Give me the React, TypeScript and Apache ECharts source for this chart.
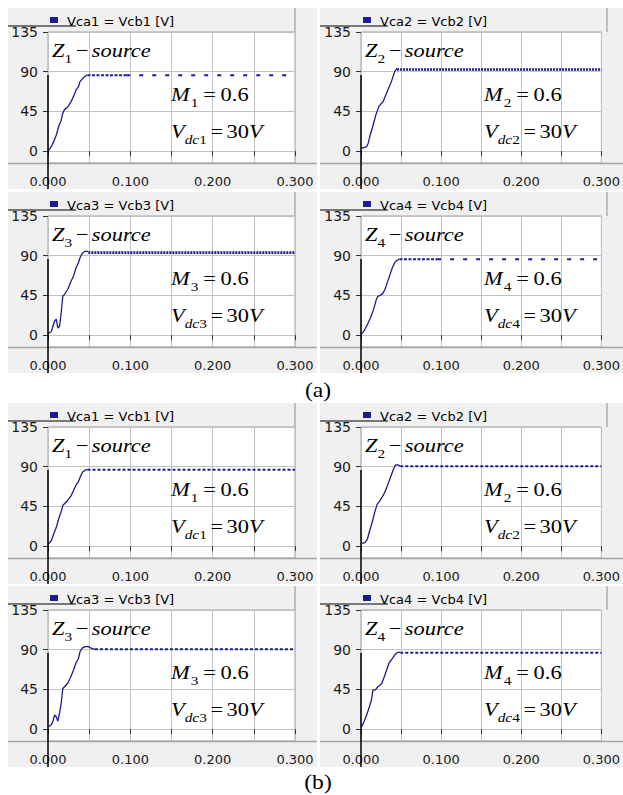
import { useEffect, useRef } from "react";
import * as echarts from "echarts";

// ---- axes ----
const timeMin = 0;
const timeMax = 0.3;
const timeStep = 0.05;
const voltTicks = [0, 45, 90, 135];
const voltMin = -13.5;
const voltMax = 135;

// ---- texts ----
const legendTexts = ["Vca1 = Vcb1 [V]", "Vca2 = Vcb2 [V]", "Vca3 = Vcb3 [V]", "Vca4 = Vcb4 [V]"];
const sourceIndex = ["1", "2", "3", "4"];
const modulationIndex = "0.6";
const dcVoltage = "30";
const groupLabels = ["(a)", "(b)"];

// ---- (a) capacitor voltages: start-up ramp and steady state [t (s), V] ----
const rampA1 = [[0, 0], [0.004, 5], [0.007, 11], [0.01, 18], [0.013, 28], [0.016, 35], [0.018, 43], [0.02, 47], [0.024, 50], [0.028, 56], [0.031, 62], [0.034, 69], [0.037, 73], [0.039, 79], [0.042, 82], [0.045, 85], [0.048, 86]];
const steadyA1 = [[0.048, 86], [0.095, 86], [0.3, 86]];

const rampA2 = [[0.001, 3], [0.007, 5], [0.009, 9], [0.012, 20], [0.015, 29], [0.0185, 41], [0.0225, 51], [0.0275, 56], [0.0325, 67], [0.038, 79], [0.042, 90], [0.045, 94]];
const steadyA2 = [[0.045, 92.5], [0.3, 92.5]];

const rampA3 = [[0, 1.5], [0.004, 4], [0.006, 10], [0.008, 16], [0.01, 18], [0.012, 8], [0.014, 10], [0.016, 25], [0.018, 44], [0.02, 46], [0.024, 52], [0.028, 61], [0.031, 67], [0.034, 76], [0.037, 82], [0.039, 88], [0.042, 93], [0.045, 95], [0.049, 95]];
const steadyA3 = [[0.049, 93.5], [0.3, 93.5]];

const rampA4 = [[0.0005, 1], [0.004, 5], [0.008, 12], [0.012, 20], [0.016, 30], [0.019, 40], [0.021, 44], [0.024, 45], [0.027, 47], [0.03, 52], [0.033, 60], [0.036, 68], [0.039, 76], [0.042, 82], [0.045, 85], [0.048, 86]];
const steadyA4 = [[0.048, 86], [0.095, 86], [0.3, 86]];

// ---- (b) capacitor voltages ----
const rampB1 = [[0, 2], [0.004, 6], [0.007, 14], [0.01, 21], [0.013, 31], [0.016, 39], [0.018, 46], [0.02, 48], [0.024, 52], [0.028, 57], [0.031, 63], [0.034, 69], [0.037, 73], [0.039, 78], [0.042, 84], [0.045, 86], [0.048, 87]];
const steadyB1 = [[0.048, 86.5], [0.3, 86.5]];

const rampB2 = [[0.001, 3], [0.005, 4], [0.008, 8], [0.011, 18], [0.014, 27], [0.017, 38], [0.02, 47], [0.024, 52], [0.028, 58], [0.032, 66], [0.036, 76], [0.04, 86], [0.043, 92], [0.046, 92], [0.049, 91]];
const steadyB2 = [[0.049, 90.5], [0.3, 90.5]];

const rampB3 = [[0.001, 3], [0.004, 5], [0.006, 9], [0.008, 16], [0.01, 14], [0.012, 9], [0.014, 18], [0.016, 29], [0.018, 46], [0.02, 48], [0.024, 52], [0.028, 60], [0.031, 67], [0.034, 75], [0.037, 80], [0.039, 88], [0.042, 92], [0.045, 93.5], [0.049, 93.5], [0.053, 91.5], [0.057, 90.5]];
const steadyB3 = [[0.057, 90.5], [0.3, 90.5]];

const rampB4 = [[0.001, 3], [0.004, 9], [0.007, 16], [0.01, 24], [0.013, 33], [0.015, 44.5], [0.018, 44.5], [0.021, 48], [0.024, 50], [0.026, 52], [0.0285, 58], [0.032, 67], [0.035, 75], [0.039, 80], [0.043, 85], [0.046, 87], [0.049, 87]];
const steadyB4 = [[0.049, 86.5], [0.3, 86.5]];

type Look = "sparse" | "ripple" | "dotted";
const panels: { row: number; col: number; n: number; ramp: number[][]; steady: number[][]; look: Look }[] = [
  { row: 0, col: 0, n: 0, ramp: rampA1, steady: steadyA1, look: "sparse" },
  { row: 0, col: 1, n: 1, ramp: rampA2, steady: steadyA2, look: "ripple" },
  { row: 1, col: 0, n: 2, ramp: rampA3, steady: steadyA3, look: "ripple" },
  { row: 1, col: 1, n: 3, ramp: rampA4, steady: steadyA4, look: "sparse" },
  { row: 2, col: 0, n: 0, ramp: rampB1, steady: steadyB1, look: "dotted" },
  { row: 2, col: 1, n: 1, ramp: rampB2, steady: steadyB2, look: "dotted" },
  { row: 3, col: 0, n: 2, ramp: rampB3, steady: steadyB3, look: "dotted" },
  { row: 3, col: 1, n: 3, ramp: rampB4, steady: steadyB4, look: "dotted" },
];

// ---- layout ----
const W = 623;
const H = 795;
const COLS = [
  { pl: 8, pw: 309, gl: 48, gw: 247 },
  { pl: 320, pw: 303, gl: 361, gw: 246 },
];
const ROW_TOPS = [8, 192, 403, 586];
const PANEL_H = 181;
const GRID_TOP = 24;
const GRID_H = 131;
const TRACE = "#1c1c8e";
const PANEL_BG = "#f0f0f0";
const GRID_LINE = "#c2c2c2";
const SANS = "DejaVu Sans";
const SERIF = "Liberation Serif";
const MAIN = 19;
const SUB = 13;
const SUB_DROP = 6;
const STRETCH = 1.18;

let measureCtx: CanvasRenderingContext2D | null = null;
function measure(text: string, italic: boolean, size: number) {
  if (!measureCtx) measureCtx = document.createElement("canvas").getContext("2d");
  measureCtx!.font = `${italic ? "italic " : ""}${size}px "${SERIF}"`;
  return measureCtx!.measureText(text).width;
}

type Piece = { t: string; it?: boolean; sub?: boolean; gap?: number };

function mathLine(x0: number, baseline: number, pieces: Piece[]) {
  const out: any[] = [];
  let cum = 0;
  for (const p of pieces) {
    cum += p.gap || 0;
    const size = p.sub ? SUB : MAIN;
    const base = baseline + (p.sub ? SUB_DROP : 0);
    out.push({
      type: "text",
      x: x0 + cum * STRETCH,
      y: base - 0.3375 * size,
      scaleX: STRETCH,
      z: 20,
      silent: true,
      style: {
        text: p.t,
        fontFamily: SERIF,
        fontSize: size,
        fontStyle: p.it ? "italic" : "normal",
        fill: "#000",
        align: "left",
        verticalAlign: "middle",
        textAlign: "left",
        textVerticalAlign: "middle",
      },
    });
    cum += measure(p.t, !!p.it, size);
  }
  return out;
}

function lineEl(x1: number, y1: number, x2: number, y2: number, stroke: string, lineWidth: number, z = 10) {
  return { type: "line", z, silent: true, shape: { x1, y1, x2, y2 }, style: { stroke, lineWidth } };
}

function steadyStyle(look: Look) {
  if (look === "ripple") return [{ type: [2, 1], width: 2.6 }];
  if (look === "dotted") return [{ type: [3, 2], width: 2 }];
  return [
    { type: [3, 1.5], width: 2 },
    { type: [4, 9], width: 2 },
  ];
}

function buildOption() {
  const grid: any[] = [];
  const xAxis: any[] = [];
  const yAxis: any[] = [];
  const series: any[] = [];
  const graphic: any[] = [];

  panels.forEach((p, i) => {
    const c = COLS[p.col];
    const T = ROW_TOPS[p.row];
    grid.push({
      left: c.gl,
      top: T + GRID_TOP,
      width: c.gw,
      height: GRID_H,
      show: true,
      backgroundColor: "#ffffff",
      borderColor: "#a0a0a0",
      borderWidth: 1,
    });
    xAxis.push({
      gridIndex: i,
      type: "value",
      min: timeMin,
      max: timeMax,
      interval: timeStep,
      offset: 7,
      axisLine: { show: false },
      axisTick: { show: true, length: 5, lineStyle: { color: "#333" } },
      axisLabel: {
        margin: 5,
        fontFamily: SANS,
        fontSize: 13,
        color: "#1a1a1a",
        formatter: (v: number) => (Math.abs(v * 10 - Math.round(v * 10)) < 1e-6 ? v.toFixed(3) : ""),
      },
      splitLine: { show: true, lineStyle: { color: GRID_LINE, width: 1 } },
    });
    yAxis.push({
      gridIndex: i,
      type: "value",
      min: voltMin,
      max: voltMax,
      axisLine: { show: false },
      axisTick: { show: true, length: 5, customValues: voltTicks, lineStyle: { color: "#333" } },
      axisLabel: { customValues: voltTicks, margin: 10, fontFamily: SANS, fontSize: 14, color: "#1a1a1a" },
      splitLine: { show: true, lineStyle: { color: GRID_LINE, width: 1 } },
    });

    series.push({
      type: "line",
      xAxisIndex: i,
      yAxisIndex: i,
      data: p.ramp,
      symbol: "none",
      silent: true,
      lineStyle: { color: TRACE, width: 1.3 },
      z: 5,
    });
    const styles = steadyStyle(p.look);
    styles.forEach((s, k) => {
      const seg = styles.length === 1 ? p.steady : p.steady.slice(k, k + 2);
      series.push({
        type: "line",
        xAxisIndex: i,
        yAxisIndex: i,
        data: seg,
        symbol: "none",
        silent: true,
        lineStyle: { color: TRACE, width: s.width, type: s.type },
        z: 5,
      });
    });

    // panel frame
    graphic.push({ type: "rect", z: -10, silent: true, shape: { x: c.pl, y: T, width: c.pw, height: PANEL_H }, style: { fill: PANEL_BG } });
    graphic.push(lineEl(c.gl + c.gw, T, c.gl + c.gw, T + GRID_TOP, "#8c8c8c", 1));
    graphic.push(lineEl(c.pl, T + 18, c.pl + 68, T + 18, "#000", 1));
    graphic.push(lineEl(c.pl, T + GRID_TOP + GRID_H + 0.5, c.pl + c.pw, T + GRID_TOP + GRID_H + 0.5, "#a4a4a4", 1.5));
    graphic.push(lineEl(c.gl, T + 67, c.gl, T + PANEL_H, "#000", 1.5, 30));
    // legend
    graphic.push({ type: "rect", z: 10, silent: true, shape: { x: c.gl + 2, y: T + 9, width: 8, height: 6 }, style: { fill: TRACE } });
    graphic.push({
      type: "text",
      z: 10,
      silent: true,
      x: c.gl + 19,
      y: T + 13,
      style: { text: legendTexts[p.n], fontFamily: SANS, fontSize: 13, fill: "#000", align: "left", verticalAlign: "middle", textAlign: "left", textVerticalAlign: "middle" },
    });
    // annotations
    const n = sourceIndex[p.n];
    graphic.push(
      ...mathLine(c.gl + 4, T + 49, [
        { t: "Z", it: true },
        { t: n, sub: true },
        { t: "\u2212", gap: 3 },
        { t: "source", it: true, gap: 3 },
      ])
    );
    graphic.push(
      ...mathLine(c.gl + 123, T + 93, [
        { t: "M", it: true },
        { t: n, sub: true, gap: 1 },
        { t: "=", gap: 4 },
        { t: modulationIndex, gap: 4 },
      ])
    );
    graphic.push(
      ...mathLine(c.gl + 123, T + 130, [
        { t: "V", it: true },
        { t: "dc", it: true, sub: true },
        { t: n, sub: true },
        { t: "=", gap: 3 },
        { t: dcVoltage, gap: 3 },
        { t: "V", it: true },
      ])
    );
  });

  const labelY = [391, 783];
  groupLabels.forEach((g, k) => {
    graphic.push({
      type: "text",
      x: 318,
      y: labelY[k],
      scaleX: STRETCH,
      silent: true,
      style: { text: g, fontFamily: SERIF, fontSize: 20, fill: "#000", align: "center", verticalAlign: "middle", textAlign: "center", textVerticalAlign: "middle" },
    });
  });

  return { animation: false, backgroundColor: "#ffffff", grid, xAxis, yAxis, series, graphic };
}

export default function App() {
  const ref = useRef<HTMLDivElement>(null);
  useEffect(() => {
    if (!ref.current) return;
    const chart = echarts.init(ref.current, undefined, { renderer: "svg", width: W, height: H });
    chart.setOption(buildOption() as any);
    return () => chart.dispose();
  }, []);
  return <div ref={ref} style={{ position: "fixed", left: 0, top: 0, width: W, height: H, background: "#fff" }} />;
}
